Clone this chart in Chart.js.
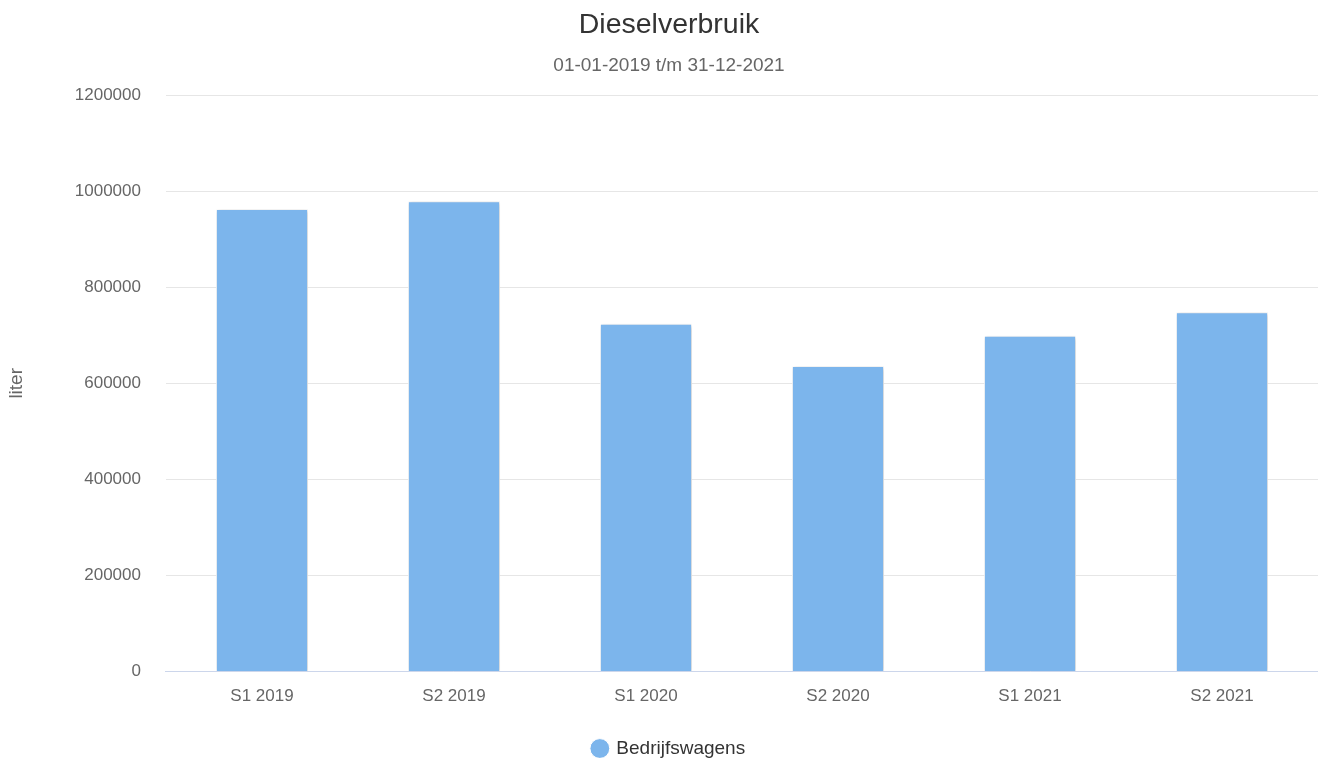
<!DOCTYPE html>
<html>
<head>
<meta charset="utf-8">
<script src="https://cdn.jsdelivr.net/npm/chart.js@4/dist/chart.umd.min.js"></script>
<style>
  html, body { margin: 0; padding: 0; background: #fff; }
  #wrap { width: 1318px; height: 758px; }
</style>
</head>
<body>
<div id="wrap"><canvas id="chart" width="1318" height="758"></canvas></div>
<script>
// gegevens uit de grafiek
var periods = ['S1 2019', 'S2 2019', 'S1 2020', 'S2 2020', 'S1 2021', 'S2 2021'];
var bedrijfswagens = [963000, 979000, 724000, 636000, 699000, 748000];
var yTicks = [0, 200000, 400000, 600000, 800000, 1000000, 1200000];

var fontFamily = '"Liberation Sans", Arial, sans-serif';

// schaduw onder de staven, zoals in het origineel
var barShadow = {
    id: 'barShadow',
    beforeDatasetDraw: function(chart) {
        var ctx = chart.ctx;
        ctx.save();
        ctx.shadowColor = 'rgba(0,0,0,0.22)';
        ctx.shadowBlur = 4;
        ctx.shadowOffsetX = 1;
        ctx.shadowOffsetY = 1;
    },
    afterDatasetDraw: function(chart) {
        chart.ctx.restore();
    }
};

var ctx = document.getElementById('chart').getContext('2d');
var myChart = new Chart(ctx, {
    type: 'bar',
    data: {
        labels: periods,
        datasets: [{
            label: 'Bedrijfswagens',
            data: bedrijfswagens,
            backgroundColor: '#7cb5ec',
            borderColor: '#ffffff',
            borderWidth: 1,
            barPercentage: 0.48,
            categoryPercentage: 1
        }]
    },
    options: {
        responsive: false,
        animation: false,
        layout: { padding: { left: 20, right: 0, top: 4, bottom: -10 } },
        plugins: {
            title: {
                display: true,
                text: 'Dieselverbruik',
                color: '#333333',
                font: { family: fontFamily, size: 28.5, weight: 'normal' },
                padding: { top: 4, bottom: 12 }
            },
            subtitle: {
                display: true,
                text: '01-01-2019 t/m 31-12-2021',
                color: '#666666',
                font: { family: fontFamily, size: 19 },
                padding: { bottom: 18 }
            },
            legend: {
                position: 'bottom',
                labels: {
                    usePointStyle: true,
                    pointStyle: 'circle',
                    boxWidth: 14,
                    boxHeight: 14,
                    color: '#333333',
                    font: { family: fontFamily, size: 19 },
                    padding: 2
                }
            },
            tooltip: { enabled: false }
        },
        scales: {
            x: {
                grid: { display: false, drawTicks: false },
                border: { color: '#ccd6eb', width: 1 },
                ticks: {
                    color: '#666666',
                    font: { family: fontFamily, size: 17 },
                    padding: 15
                },
                afterFit: function(axis) {
                    axis.height += 15;
                }
            },
            y: {
                min: 0,
                max: 1200000,
                afterBuildTicks: function(axis) {
                    axis.ticks = yTicks.map(function(v) { return { value: v }; });
                },
                grid: { color: '#e6e6e6', drawTicks: false },
                border: { display: false },
                ticks: {
                    color: '#666666',
                    font: { family: fontFamily, size: 17 },
                    padding: 25,
                    callback: function(v) { return String(v); }
                },
                title: {
                    display: true,
                    text: 'liter',
                    color: '#666666',
                    font: { family: fontFamily, size: 19 },
                    padding: { top: -15, bottom: 22 }
                }
            }
        }
    },
    plugins: [barShadow]
});
</script>
</body>
</html>
